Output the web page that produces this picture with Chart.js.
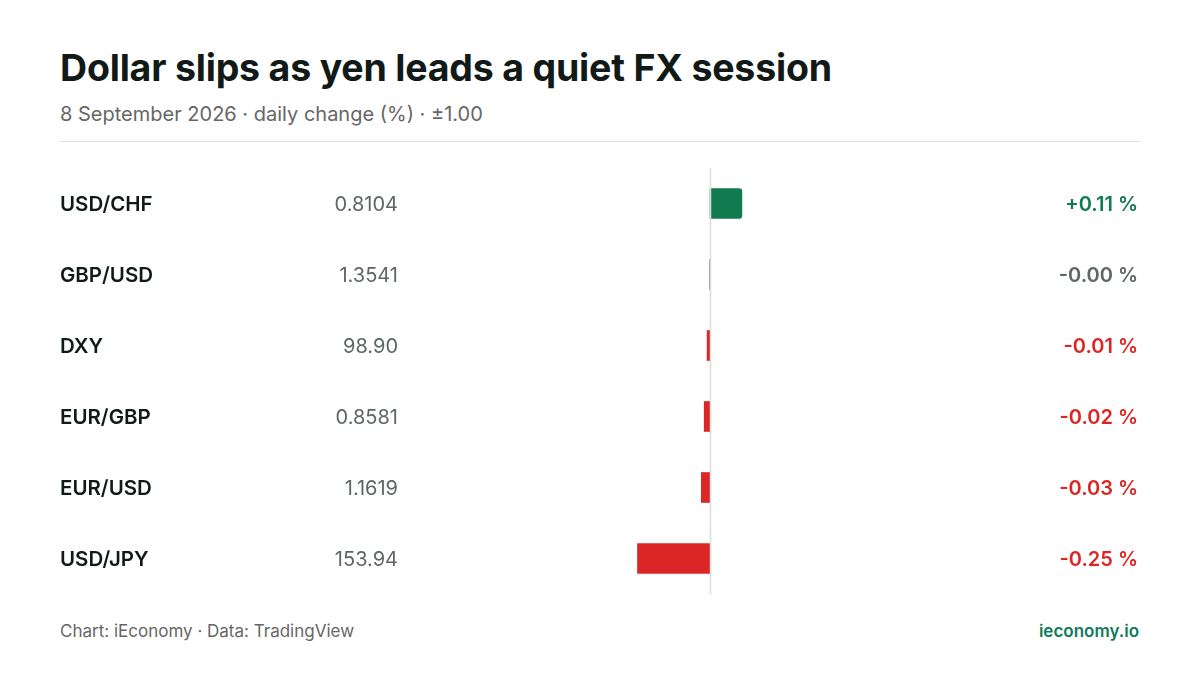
<!DOCTYPE html>
<html><head><meta charset="utf-8">
<script src="https://cdn.jsdelivr.net/npm/chart.js@4/dist/chart.umd.min.js"></script>
<style>
body{margin:0;width:1200px;height:675px;background:#fff;font-family:Inter,sans-serif;position:relative;overflow:hidden}
#t{position:absolute;left:60px;top:45px;font-size:37.5px;font-weight:700;color:#111a17;letter-spacing:-0.2px}
#s{position:absolute;left:60px;top:102px;font-size:20px;color:#666}
#d{position:absolute;left:60px;top:141px;width:1080px;height:1px;background:#ddd}
#f{position:absolute;left:60px;top:621px;font-size:17px;color:#666}
#b{position:absolute;right:61px;top:621px;font-size:17px;font-weight:600;color:#127a5a}
#w{position:absolute;left:0;top:160px;width:1200px;height:440px}
</style></head><body>
<div id="t">Dollar slips as yen leads a quiet FX session</div>
<div id="s">8 September 2026 · daily change (%) · ±1.00</div>
<div id="d"></div>
<div id="w"><canvas id="c"></canvas></div>
<div id="f">Chart: iEconomy · Data: TradingView</div>
<div id="b">ieconomy.io</div>
<script>
const pairs=["USD/CHF","GBP/USD","DXY","EUR/GBP","EUR/USD","USD/JPY"];
const rates=["0.8104","1.3541","98.90","0.8581","1.1619","153.94"];
const changes=[0.11,-0.001,-0.01,-0.02,-0.03,-0.25];
const col=v=>Math.abs(v)<0.005?'#5f6664':(v>0?'#127a4f':'#dc2626');
const labels={id:'labels',afterDatasetsDraw(ch){
 const c=ch.ctx,y=ch.scales.y,x=ch.scales.x,a=ch.chartArea;
 c.save();
 c.strokeStyle='#dcdcdc';c.lineWidth=1.5;
 const x0=Math.round(x.getPixelForValue(0))+0.5;
 c.beginPath();c.moveTo(x0,a.top);c.lineTo(x0,a.bottom);c.stroke();
 c.textBaseline='middle';
 pairs.forEach((p,i)=>{
  const py=y.getPixelForValue(i)+1;
  c.font='600 20.5px Inter';c.fillStyle='#111a17';c.textAlign='left';c.fillText(p,60,py);
  c.font='400 20px Inter';c.fillStyle='#5f6664';c.textAlign='right';c.fillText(rates[i],398,py);
  const v=changes[i];
  c.font='600 20px Inter';c.fillStyle=col(v);
  c.fillText((v>0?'+':'')+v.toFixed(2)+' %',1138,py);
 });
 c.restore();
}};
new Chart(document.getElementById('c'),{type:'bar',
 data:{labels:pairs,datasets:[{data:changes,backgroundColor:changes.map(col),barThickness:30,
  borderRadius:{topLeft:0,bottomLeft:0,topRight:3,bottomRight:3},borderSkipped:'start'}]},
 options:{indexAxis:'y',responsive:true,maintainAspectRatio:false,animation:false,
  layout:{padding:{left:420,right:200,top:8,bottom:6}},
  plugins:{legend:{display:false},tooltip:{enabled:false}},
  scales:{x:{min:-1,max:1,display:false},y:{display:false}}},
 plugins:[labels]});
</script></body></html>
